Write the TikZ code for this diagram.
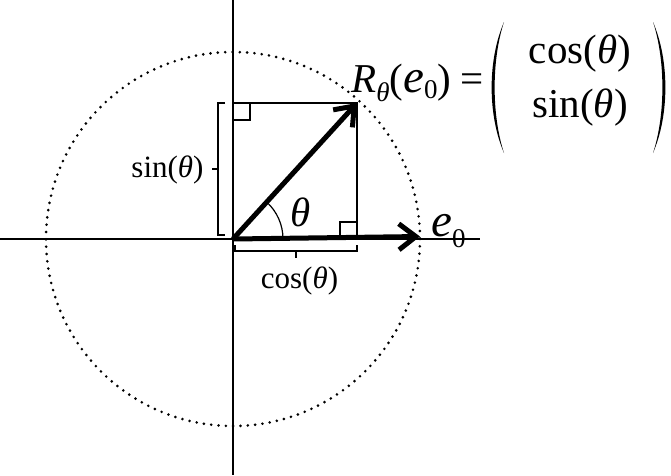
\documentclass[tikz,border=0pt]{standalone}
\usepackage{fontspec}
\setmainfont{Liberation Serif}
\usetikzlibrary{arrows.meta}
\newcommand{\subs}[2][-8pt]{\raisebox{#1}{\fontsize{27}{30}\selectfont #2}}
\newcommand{\bige}{{\fontsize{47}{50}\selectfont\textit{e}}}
\begin{document}
\begin{tikzpicture}[x=1pt,y=-1pt,
  thinline/.style={line width=1.2pt},
  vec/.style={line width=5pt,-{Straight Barb[length=17pt,width=26pt]}},
  dotcircle/.style={line width=2.9pt,line cap=round,dash pattern=on 0pt off 7.34pt},
  lbl/.style={inner sep=0pt,font=\fontsize{31}{36}\selectfont},
  big/.style={inner sep=0pt,font=\fontsize{41}{48}\selectfont},
  paren/.style={fill=black}]
\useasboundingbox (0,0) rectangle (671,475);
% key points
\coordinate (O) at (233,239);
\coordinate (P) at (357,103);
\coordinate (E) at (420,236.5);
\coordinate (Ytop) at (233,0);
\coordinate (Ybot) at (233,475);
\coordinate (Xl) at (0,239);
\coordinate (Xr) at (480,239);
% axes
\draw[thinline] (Ytop) -- (Ybot);
\draw[thinline] (Xl) -- (Xr);
% dotted circle
\draw[dotcircle] (O) circle[radius=187];
% rectangle
\draw[thinline] (233,103) -- (P) -- (357,239);
% right angle marks
\draw[thinline] (233,120) -- (250,120) -- (250,103);
\draw[thinline] (340,239) -- (340,222) -- (357,222);
% brackets
\draw[thinline] (225,103) -- (218,103) -- (218,235) -- (225,235);
\draw[thinline] (218,169) -- (212,169);
\draw[thinline] (235,245) -- (235,251) -- (357,251) -- (357,245);
\draw[thinline] (296,251) -- (296,258);
% angle arc
\draw[thinline] (283,239) arc[start angle=0,end angle=-47.6,radius=50];
% vectors
\draw[vec] (O) -- (P);
\draw[vec] (O) -- (E);
% labels
\node[lbl,anchor=base] (sinl) at (167.5,177) {sin(\textit{θ})};
\node[lbl,anchor=base] (cosl) at (299.5,288) {cos(\textit{θ})};
\node[big] (th) at (301,212) {\textit{θ}};
\node[big,anchor=base west] (e0) at (431,236) {\bige\subs[-11pt]{0}};
\node[big,anchor=base west] (R) at (351,92) {\textit{R}\subs[-9pt]{\textit{θ}}(\bige\subs[-6pt]{0})};
\node[big] (eq) at (472,83) {=};
\node[big,anchor=base] (mc) at (580,63) {cos(\textit{θ})};
\node[big,anchor=base] (ms) at (580,117) {sin(\textit{θ})};
% parentheses
\fill[paren] (504,22) .. controls (487.5,60) and (487.5,115) .. (504,153)
  .. controls (491.5,115) and (491.5,60) .. (504,22) -- cycle;
\fill[paren] (653,22) .. controls (669.5,60) and (669.5,115) .. (653,153)
  .. controls (665.5,115) and (665.5,60) .. (653,22) -- cycle;
\end{tikzpicture}
\end{document}
